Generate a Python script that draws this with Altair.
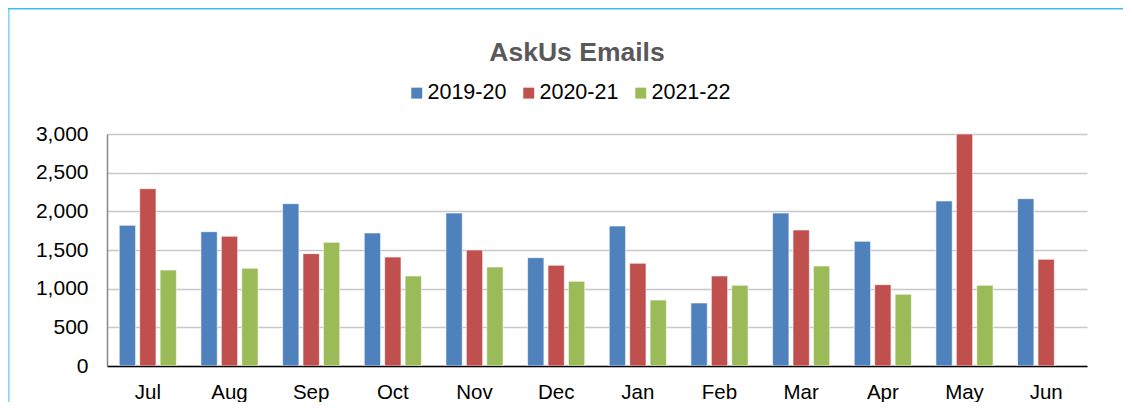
import altair as alt
import pandas as pd

months = ["Jul", "Aug", "Sep", "Oct", "Nov", "Dec", "Jan", "Feb", "Mar", "Apr", "May", "Jun"]
series = ["2019-20", "2020-21", "2021-22"]
s1920 = [1819, 1737, 2099, 1720, 1978, 1401, 1810, 815, 1978, 1612, 2134, 2164]
s2021 = [2293, 1677, 1453, 1409, 1500, 1302, 1328, 1164, 1759, 1052, 3000, 1379]
s2122 = [1241, 1263, 1599, 1164, 1280, 1095, 853, 1043, 1293, 927, 1043, None]
colors = ["#4F81BD", "#C0504D", "#9BBB59"]
y_ticks = [0, 500, 1000, 1500, 2000, 2500, 3000]

rows = []
for name, vals in zip(series, [s1920, s2021, s2122]):
    for m, v in zip(months, vals):
        if v is not None:
            rows.append({"Month": m, "Year": name, "Emails": v})
df = pd.DataFrame(rows)

FONT = "Liberation Sans"

bars = alt.Chart(df).mark_bar(
    stroke="white", strokeWidth=1, strokeOpacity=0.6, clip=True
).encode(
    x=alt.X("Month:N", sort=months, title=None,
            scale=alt.Scale(paddingInner=0.3, paddingOuter=0.15),
            axis=alt.Axis(labelAngle=0, ticks=False, labelPadding=16, labelFontSize=20.5,
                          labelColor="black", domainColor="black", domainWidth=1.5,
                          labelFont=FONT, grid=False)),
    xOffset=alt.XOffset("Year:N", sort=series, scale=alt.Scale(paddingInner=0.2, paddingOuter=0)),
    y=alt.Y("Emails:Q", title=None,
            scale=alt.Scale(domain=[0, 3000], nice=False),
            axis=alt.Axis(values=y_ticks, format=",.0f", ticks=False, labelPadding=19,
                          labelFontSize=21, labelColor="black", labelFont=FONT,
                          domainColor="#868686", domainWidth=1.5,
                          gridColor="#C8C8C8", gridWidth=1.5)),
    color=alt.Color("Year:N", sort=series,
                    scale=alt.Scale(domain=series, range=colors),
                    legend=alt.Legend(orient="none", legendX=299, legendY=-52,
                                      direction="horizontal", title=None,
                                      symbolType="square", symbolSize=120,
                                      symbolStrokeWidth=0, labelFontSize=21.5,
                                      labelFont=FONT, labelColor="black",
                                      labelOffset=0, columnPadding=11)),
)

one = alt.Data(values=[{"a": 1}])
border_left = alt.Chart(one).mark_rule(color="#7FD3F3", strokeWidth=1.5).encode(
    x=alt.value(-98.2), y=alt.value(-126), y2=alt.value(270))
border_top = alt.Chart(one).mark_rule(color="#3DBDEB", strokeWidth=1.5).encode(
    x=alt.value(-99), x2=alt.value(1020), y=alt.value(-125.2))

chart = alt.layer(bars, border_left, border_top).properties(
    width=980, height=232,
    title=alt.TitleParams("AskUs Emails", anchor="middle", fontSize=26.5, font=FONT,
                          fontWeight="bold", color="#595959", dx=-20, offset=-80,
                          baseline="alphabetic"),
    autosize=alt.AutoSizeParams(type="none"),
    padding={"left": 99, "top": 126, "right": 36, "bottom": 36},
).configure_view(stroke=None)

chart.save("out.html", embed_options={"renderer": "svg", "actions": False})
